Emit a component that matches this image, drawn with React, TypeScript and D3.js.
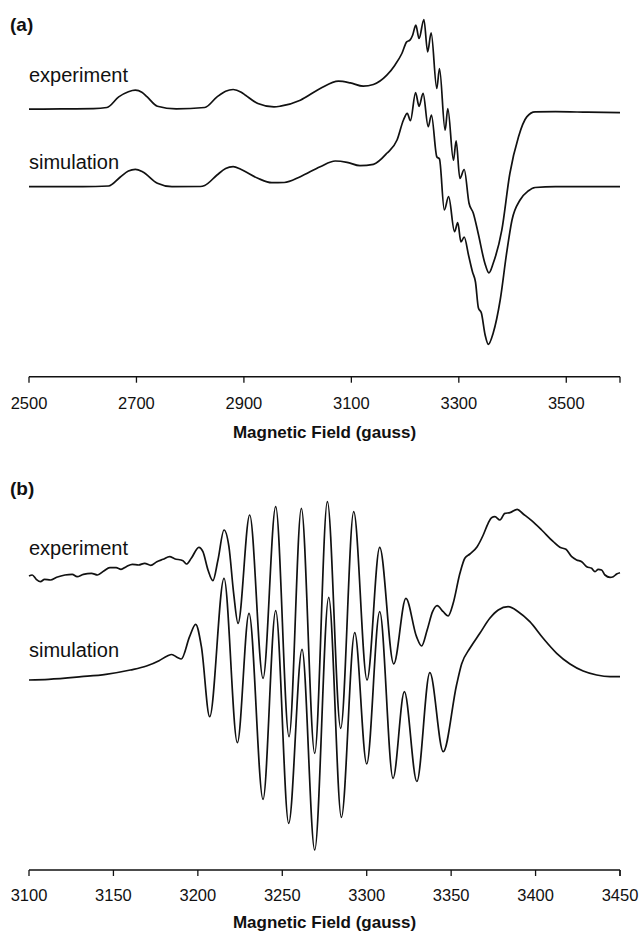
import React from "react";
import * as d3 from "d3";

// ---------- Panel (a) data: field (gauss) and derivative signal (arb. units) ----------
const A_FIELD_EXP = [2500, 2560, 2620, 2645, 2667, 2685, 2698, 2710, 2720, 2739, 2774, 2827, 2850, 2866, 2880, 2895, 2903, 2926, 2956, 2968, 3005, 3042, 3076, 3098, 3122, 3141, 3166, 3181, 3194, 3203, 3209, 3214, 3220, 3226, 3235, 3242, 3248.5, 3259, 3264, 3274.5, 3279.5, 3290, 3295, 3302, 3310, 3319, 3327, 3336, 3348.5, 3356, 3364, 3380, 3395, 3411, 3426.5, 3442, 3480, 3540, 3600];
const A_EXP = [-0.05, -0.02, 0, 0.12, 1.18, 1.7, 1.85, 1.65, 1.18, 0.25, -0.02, 0.12, 1.18, 1.75, 1.92, 1.65, 1.35, 0.52, 0.18, 0.25, 0.85, 2.02, 2.75, 2.58, 2.25, 2.42, 3.35, 4.35, 5.52, 6.68, 6.85, 7.35, 8.35, 7.02, 8.92, 5.68, 7.58, 2.02, 4.02, -2.15, 0.02, -5.15, -3.22, -6.98, -6.08, -9.45, -10.45, -12.45, -15.45, -16.42, -15.45, -12.15, -6.48, -2.82, -0.82, -0.32, -0.3, -0.35, -0.4];

const A_FIELD_SIM = [2500, 2600, 2648, 2670, 2685, 2698, 2712, 2739, 2766, 2819, 2827, 2850, 2866, 2880, 2895, 2926, 2952, 2975, 3005, 3042, 3070, 3092, 3116, 3141, 3166, 3185, 3197, 3204, 3210, 3219.5, 3226, 3233.5, 3243, 3249, 3259, 3264, 3273, 3281, 3292, 3298, 3304, 3310, 3318, 3325.5, 3331, 3336.5, 3342, 3349, 3355, 3364, 3377, 3389, 3399, 3414, 3429, 3442, 3480, 3600];
const A_SIM = [0, 0, 0.07, 0.97, 1.57, 1.74, 1.47, 0.34, 0, 0.02, 0.12, 1.17, 1.82, 2.0, 1.72, 0.84, 0.4, 0.42, 1.0, 2.0, 2.57, 2.44, 2.1, 2.24, 3.34, 4.67, 6.67, 7.34, 6.6, 9.4, 8.04, 9.34, 6.0, 7.17, 3.0, 2.77, -2.33, -1.0, -4.5, -3.6, -5.53, -5.03, -6.83, -8.53, -9.53, -12.13, -12.63, -14.83, -15.76, -14.63, -11.33, -6.63, -3.33, -1.33, -0.43, -0.08, 0, 0];

const A_TICKS = [2500, 2700, 2900, 3100, 3300, 3500];

// ---------- Panel (b) data ----------
const B_FIELD_EXP = [3100, 3101.9, 3104.3, 3106.8, 3109.2, 3112.7, 3116.4, 3121.3, 3125.6, 3128.5, 3132.2, 3137, 3140.6, 3144.3, 3147.9, 3151.6, 3154.5, 3157.6, 3161.2, 3164.9, 3168.5, 3172.1, 3175.7, 3179.4, 3183.3, 3186.2, 3191.2, 3193.2, 3196.1, 3200.6, 3203, 3206, 3208.9, 3211.9, 3215.5, 3218.4, 3221.2, 3223.8, 3230.7, 3238.6, 3246.1, 3254, 3261.3, 3269.2, 3276.7, 3284.6, 3292.3, 3300.2, 3307.7, 3316, 3323.2, 3329.5, 3332.5, 3335.8, 3339, 3341.7, 3345.3, 3348.2, 3351.2, 3355.2, 3358.1, 3361.1, 3365.4, 3369, 3371.9, 3373.9, 3375.9, 3378.9, 3381.8, 3384.8, 3389.1, 3392.7, 3397.7, 3403.6, 3410.5, 3414.4, 3418, 3421.4, 3424.3, 3427.3, 3430.3, 3433.2, 3435.2, 3437.1, 3439.1, 3441.1, 3444.1, 3446, 3448, 3450];
const B_EXP = [0.2, 0.3, -0.13, -0.37, -0.13, -0.2, 0.07, 0.3, 0.37, 0.13, 0.37, 0.47, 0.3, 0.7, 1.03, 1.03, 0.87, 1.13, 1.37, 1.3, 1.47, 1.27, 1.63, 1.87, 2.13, 1.93, 1.73, 1.4, 1.97, 3.07, 2.63, 0.8, -0.27, 1.8, 4.8, 3.13, -1.53, -4.53, 6.3, -10.03, 7.13, -15.87, 6.97, -17.53, 7.63, -15.03, 6.63, -10.2, 3.07, -8.6, -2.03, -5.87, -6.8, -5.2, -3.37, -2.77, -3.37, -3.8, -2.53, 0.47, 1.97, 2.4, 3.13, 4.3, 5.47, 6.03, 6.13, 5.8, 6.47, 6.53, 6.87, 6.4, 5.73, 4.8, 3.63, 3.07, 2.87, 2.13, 1.8, 1.63, 1.13, 0.97, 0.63, 0.87, 0.8, 0.3, 0.07, 0.13, 0.4, 0.53];

const B_FIELD_SIM = [3100, 3111.6, 3130.9, 3145.5, 3160, 3169.6, 3177, 3181.9, 3184.5, 3187.9, 3190.2, 3195.1, 3198.7, 3202.1, 3207, 3215.5, 3223.4, 3230.3, 3238.6, 3246.1, 3253.8, 3261.7, 3269.2, 3277.5, 3285, 3292.9, 3300, 3307.7, 3315.6, 3322.3, 3329.7, 3337.4, 3345.3, 3353.2, 3356.2, 3361.1, 3367, 3372.9, 3377.9, 3383.8, 3389.7, 3396.6, 3404.5, 3412.5, 3420.4, 3428.2, 3436.2, 3444.1, 3450];
const B_SIM = [0, 0.07, 0.33, 0.57, 1.0, 1.4, 1.93, 2.4, 2.55, 2.25, 2.1, 4.33, 5.57, 3.33, -3.67, 10.17, -6.27, 6.67, -11.93, 6.93, -14.33, 3.07, -17, 8.27, -13.73, 4.73, -8.4, 6.83, -9.83, -1.17, -10.15, 0.73, -7.17, -0.5, 1.6, 3.17, 4.67, 6.17, 7.0, 7.33, 6.83, 5.83, 4.17, 2.67, 1.6, 0.9, 0.5, 0.33, 0.33];

const B_TICKS = [3100, 3150, 3200, 3250, 3300, 3350, 3400, 3450];

// vertical offsets of each trace (same units as signal)
const A_OFFSETS = { experiment: 26.8, simulation: 19.0 };
const B_OFFSETS = { experiment: 29.2, simulation: 19.0 };

const FONT = "'Liberation Sans', Arial, Helvetica, sans-serif";
const W = 642;
const H = 931;

type PanelProps = {
  label: string;
  top: number;
  axisY: number;
  yMax: number;
  domain: [number, number];
  ticks: number[];
  labelGap: number;
  titleGap: number;
  series: { field: number[]; value: number[]; offset: number }[];
  textLabels: { text: string; value: number }[];
};

function Panel(p: PanelProps) {
  const x = d3.scaleLinear().domain(p.domain).range([29, 620]);
  const y = d3.scaleLinear().domain([0, p.yMax]).range([p.axisY, p.axisY - p.yMax * 10]);
  const line = d3
    .line<[number, number]>()
    .x((d) => x(d[0]))
    .y((d) => y(d[1]))
    .curve(d3.curveMonotoneX);
  return (
    <g>
      <text x={10} y={p.top} fontFamily={FONT} fontWeight="bold" fontSize={19} fill="#111">
        {p.label}
      </text>
      {p.textLabels.map((t) => (
        <text key={t.text} x={29} y={y(t.value)} fontFamily={FONT} fontSize={20} fill="#111">
          {t.text}
        </text>
      ))}
      {p.series.map((s, i) => {
        const pts = s.field.map((f, k) => [f, s.value[k] + s.offset] as [number, number]);
        return (
          <path key={i} d={line(pts) || ""} fill="none" stroke="#111" strokeWidth={1.7} strokeLinejoin="round" />
        );
      })}
      <line x1={x(p.domain[0])} x2={x(p.domain[1])} y1={p.axisY} y2={p.axisY} stroke="#111" strokeWidth={1.5} />
      {p.ticks.map((t) => (
        <g key={t} transform={`translate(${x(t)},${p.axisY})`}>
          <line y1={0} y2={6} stroke="#111" strokeWidth={1.3} />
          <text y={p.labelGap} textAnchor="middle" fontFamily={FONT} fontSize={16.5} fill="#111">
            {t}
          </text>
        </g>
      ))}
      <line x1={x(p.domain[1])} x2={x(p.domain[1])} y1={p.axisY} y2={p.axisY + 6} stroke="#111" strokeWidth={1.3} />
      <text
        x={(x(p.domain[0]) + x(p.domain[1])) / 2}
        y={p.axisY + p.titleGap}
        textAnchor="middle"
        fontFamily={FONT}
        fontWeight="bold"
        fontSize={17}
        fill="#111"
      >
        Magnetic Field (gauss)
      </text>
    </g>
  );
}

export default function App() {
  return (
    <svg
      width={W}
      height={H}
      viewBox={`0 0 ${W} ${H}`}
      style={{ position: "absolute", left: 0, top: 0, background: "#fff" }}
    >
      <rect width={W} height={H} fill="#fff" />
      <Panel
        label="(a)"
        top={31}
        axisY={376.7}
        yMax={37.67}
        domain={[2500, 3600]}
        ticks={A_TICKS}
        labelGap={32}
        titleGap={61}
        series={[
          { field: A_FIELD_EXP, value: A_EXP, offset: A_OFFSETS.experiment },
          { field: A_FIELD_SIM, value: A_SIM, offset: A_OFFSETS.simulation },
        ]}
        textLabels={[
          { text: "experiment", value: (376.7 - 81.5) / 10 },
          { text: "simulation", value: (376.7 - 169) / 10 },
        ]}
      />
      <Panel
        label="(b)"
        top={495}
        axisY={870}
        yMax={43}
        domain={[3100, 3450]}
        ticks={B_TICKS}
        labelGap={31}
        titleGap={58}
        series={[
          { field: B_FIELD_EXP, value: B_EXP, offset: B_OFFSETS.experiment },
          { field: B_FIELD_SIM, value: B_SIM, offset: B_OFFSETS.simulation },
        ]}
        textLabels={[
          { text: "experiment", value: (870 - 555) / 10 },
          { text: "simulation", value: (870 - 657) / 10 },
        ]}
      />
    </svg>
  );
}
